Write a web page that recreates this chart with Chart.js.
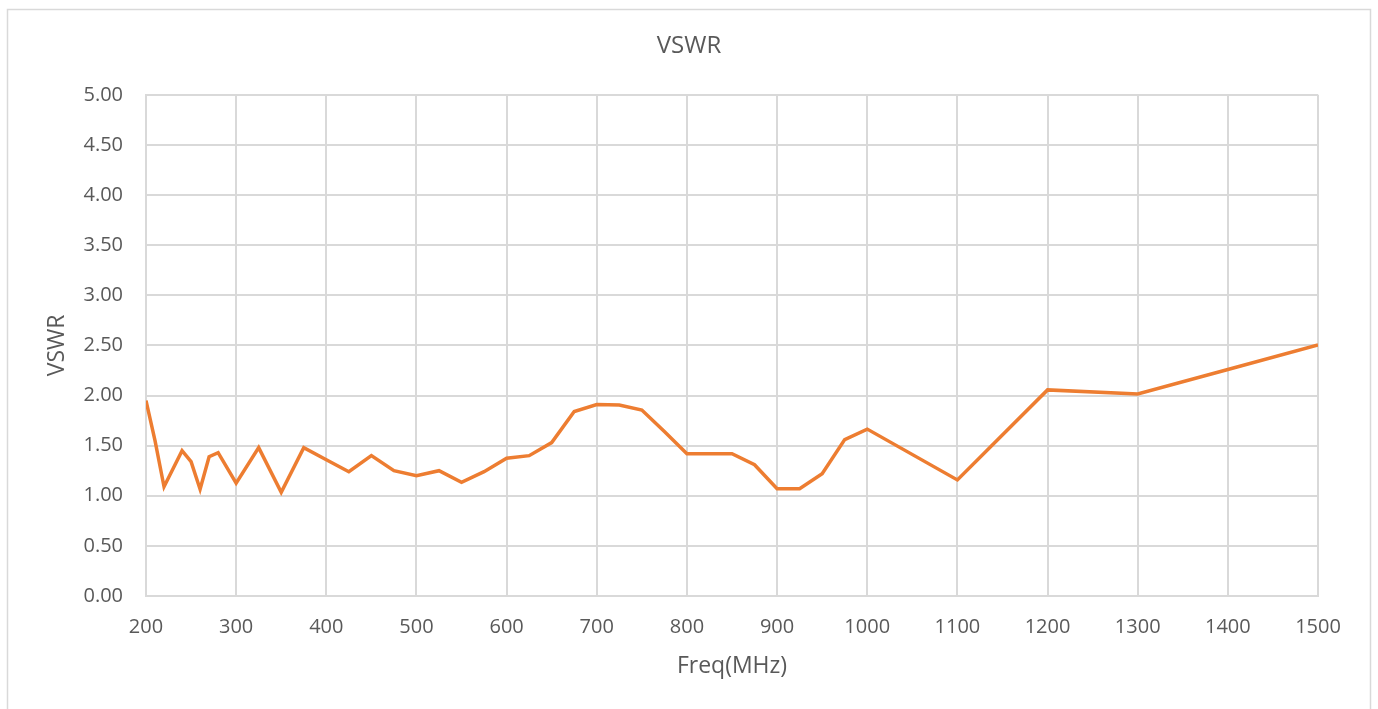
<!DOCTYPE html>
<html>
<head>
<meta charset="utf-8">
<script src="https://cdn.jsdelivr.net/npm/chart.js@4.4.1/dist/chart.umd.min.js"></script>
<style>
  html, body { margin: 0; padding: 0; background: #ffffff; }
  #wrap { position: relative; width: 1378px; height: 709px; }
</style>
</head>
<body>
<div id="wrap"><canvas id="vswrChart" width="1378" height="709"></canvas></div>
<script>
const freqMHz = [200, 210, 220, 240, 250, 260, 270, 280, 300, 325, 350, 375, 400, 425, 450, 475,
  500, 525, 550, 575, 600, 625, 650, 675, 700, 725, 750, 775, 800, 825, 850, 875,
  900, 925, 950, 975, 1000, 1100, 1200, 1300, 1400, 1500];
const vswrValues = [1.95, 1.55, 1.09, 1.45, 1.34, 1.065, 1.39, 1.43, 1.125, 1.48, 1.035, 1.48, 1.36, 1.24, 1.40, 1.25,
  1.20, 1.25, 1.135, 1.24, 1.375, 1.40, 1.53, 1.84, 1.91, 1.905, 1.855, 1.64, 1.42, 1.42, 1.42, 1.31,
  1.07, 1.07, 1.22, 1.56, 1.665, 1.158, 2.056, 2.016, 2.26, 2.505];
const xTicks = [200, 300, 400, 500, 600, 700, 800, 900, 1000, 1100, 1200, 1300, 1400, 1500];
const yTicks = [0, 0.5, 1, 1.5, 2, 2.5, 3, 3.5, 4, 4.5, 5];

const textColor = "#595959";
const gridColor = "#D9D9D9";
const fontFamily = "'Open Sans', sans-serif";

// light frame around the whole chart
const chartFrame = {
  id: "chartFrame",
  beforeDraw(chart) {
    const ctx = chart.ctx;
    ctx.save();
    ctx.strokeStyle = gridColor;
    ctx.lineWidth = 1.5;
    ctx.strokeRect(7.5, 9.5, 1363, 740);
    ctx.restore();
  },
};

new Chart(document.getElementById("vswrChart"), {
  type: "line",
  data: {
    datasets: [
      {
        label: "VSWR",
        data: freqMHz.map((f, i) => ({ x: f, y: vswrValues[i] })),
        borderColor: "#ED7D31",
        backgroundColor: "#ED7D31",
        borderWidth: 3.5,
        pointRadius: 0,
        tension: 0,
      },
    ],
  },
  options: {
    responsive: false,
    animation: false,
    layout: {
      padding: { left: 30, right: 30, top: 0, bottom: 0 },
    },
    plugins: {
      legend: { display: false },
      tooltip: { enabled: false },
      title: {
        display: true,
        text: "VSWR",
        color: textColor,
        font: { family: fontFamily, size: 24, weight: "normal" },
        padding: { top: 32, bottom: 34 },
      },
    },
    scales: {
      x: {
        type: "linear",
        min: 200,
        max: 1500,
        afterBuildTicks: (scale) => {
          scale.ticks = xTicks.map((v) => ({ value: v }));
        },
        afterFit: (scale) => {
          scale.height = 113;
          scale.paddingLeft = 0;
          scale.paddingRight = 60;
        },
        grid: { color: gridColor, lineWidth: 2, drawTicks: false },
        border: { color: gridColor, width: 2 },
        ticks: {
          color: textColor,
          padding: 19,
          maxRotation: 0,
          font: { family: fontFamily, size: 20 },
          callback: (v) => String(v),
        },
        title: {
          display: true,
          text: "Freq(MHz)",
          color: textColor,
          font: { family: fontFamily, size: 23 },
          padding: { top: 0, bottom: 29 },
        },
      },
      y: {
        min: 0,
        max: 5,
        afterBuildTicks: (scale) => {
          scale.ticks = yTicks.map((v) => ({ value: v }));
        },
        afterFit: (scale) => {
          scale.width = 116;
        },
        grid: { color: gridColor, lineWidth: 2, drawTicks: false },
        border: { color: gridColor, width: 2 },
        ticks: {
          color: textColor,
          padding: 23,
          font: { family: fontFamily, size: 20 },
          callback: (v) => Number(v).toFixed(2),
        },
        title: {
          display: true,
          text: "VSWR",
          color: textColor,
          font: { family: fontFamily, size: 23 },
          padding: { top: 14, bottom: 0 },
        },
      },
    },
  },
  plugins: [chartFrame],
});
</script>
</body>
</html>
